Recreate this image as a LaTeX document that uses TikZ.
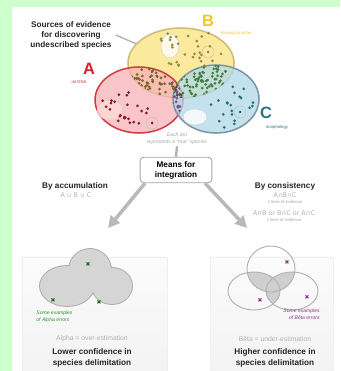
\documentclass[tikz,border=0pt]{standalone}
\usepackage{fontspec}
\setmainfont{Liberation Sans}
\newfontfamily\symfont{DejaVu Sans}
\usetikzlibrary{shapes.geometric, positioning, arrows.meta}
\usepackage{xcolor}

\definecolor{bggreen}{RGB}{204,255,204}
\definecolor{redline}{RGB}{214,58,66}
\definecolor{redfill}{RGB}{246,178,184}
\definecolor{yellowline}{RGB}{205,190,115}
\definecolor{yellowfill}{RGB}{250,226,125}
\definecolor{blueline}{RGB}{125,150,160}
\definecolor{bluefill}{RGB}{175,217,232}
\definecolor{dotA}{RGB}{140,25,40}
\definecolor{dotB}{RGB}{150,140,70}
\definecolor{dotC}{RGB}{40,110,125}
\definecolor{dotAB}{RGB}{125,100,50}
\definecolor{dotBC}{RGB}{70,125,70}
\definecolor{dotAC}{RGB}{120,80,140}
\definecolor{dotABC}{RGB}{80,70,70}
\definecolor{letterA}{RGB}{220,30,40}
\definecolor{letterB}{RGB}{240,200,40}
\definecolor{letterC}{RGB}{40,120,130}
\definecolor{alphagreen}{RGB}{40,150,40}
\definecolor{betapurple}{RGB}{140,50,140}

\newcommand{\speciesdots}[6]{%
  \foreach \k in {1,...,#5}{
    \pgfmathsetmacro{\ang}{360*rnd}
    \pgfmathsetmacro{\rad}{sqrt(rnd)}
    \fill[#6] ({#1+#3*\rad*cos(\ang)},{#2+#4*\rad*sin(\ang)}) circle[radius=1.5];
  }}

\begin{document}
\begin{tikzpicture}[
    x=0.03cm, y=-0.03cm,
    setnode/.style={ellipse, inner sep=0pt, line width=1.3pt, fill opacity=0.75},
    letter/.style={font=\bfseries\fontsize{14}{14}\selectfont, inner sep=0pt},
    tinytext/.style={font=\fontsize{3.6}{4}\selectfont, inner sep=0pt},
    title/.style={font=\bfseries\fontsize{7}{8.5}\selectfont, align=center, text=black!85},
    heading/.style={font=\bfseries\fontsize{7}{10}\selectfont, align=center, text=black!85},
    formula/.style={font=\symfont\fontsize{5.5}{6}\selectfont, text=gray!60, inner sep=0pt},
    estimate/.style={font=\fontsize{5.8}{7}\selectfont, text=gray!60},
    note/.style={font=\itshape\fontsize{4.3}{6}\selectfont, align=center, text=gray!70, inner sep=1pt},
    box/.style={rectangle, draw=gray!70, fill=white, rounded corners=3pt, line width=0.8pt, minimum width=2.15cm, minimum height=0.76cm, align=center, font=\bfseries\fontsize{7}{8.5}\selectfont},
    panel/.style={rectangle, draw=gray!12, top color=gray!3, bottom color=gray!10, inner sep=0pt},
    errmark/.style={font=\symfont\fontsize{5}{5}\selectfont, inner sep=0pt},
    bigarrow/.style={-{Triangle[length=10pt, width=10pt]}, line width=3pt, gray!55},
    pointer/.style={gray!60, line width=1.2pt}
]
    \useasboundingbox (0,0) rectangle (340,371);
    \fill[bggreen] (0,0) rectangle (340,371);
    \fill[white] (12,7) rectangle (340,371);

    \node[setnode, draw=yellowline, fill=yellowfill, minimum width=3.18cm, minimum height=2.1cm] (setB) at (181,63) {};
    \node[setnode, draw=redline, fill=redfill, minimum width=2.64cm, minimum height=1.98cm] (setA) at (139,100) {};
    \node[setnode, draw=blueline, fill=bluefill, minimum width=2.58cm, minimum height=2.04cm] (setC) at (216,99) {};

    \draw[gray!35, fill=white, fill opacity=0.8] (170,46) ellipse[x radius=9, y radius=12];
    \draw[gray!35, fill=white!85!red, fill opacity=0.8] (110,110) ellipse[x radius=13, y radius=10];
    \draw[gray!35, fill=white, fill opacity=0.8] (195,117) ellipse[x radius=12, y radius=8];
    \draw[gray!50] (208,52) circle[radius=6] (152,123) circle[radius=6] (240,112) circle[radius=6];
    \fill[dotB] (208,52) circle[radius=1.5];
    \fill[dotA] (152,123) circle[radius=1.5];
    \fill[dotC] (240,112) circle[radius=1.5];

    \pgfmathsetseed{11}
    \speciesdots{190}{50}{42}{20}{30}{dotB}
    \speciesdots{124}{108}{26}{20}{24}{dotA}
    \speciesdots{229}{106}{25}{22}{20}{dotC}
    \begin{scope}
        \clip (139,100) ellipse[x radius=44, y radius=33];
        \clip (181,63) ellipse[x radius=53, y radius=35];
        \speciesdots{158}{84}{30}{18}{85}{dotAB}
    \end{scope}
    \begin{scope}
        \clip (216,99) ellipse[x radius=43, y radius=34];
        \clip (181,63) ellipse[x radius=53, y radius=35];
        \speciesdots{200}{80}{30}{17}{85}{dotBC}
    \end{scope}
    \begin{scope}
        \clip (216,99) ellipse[x radius=43, y radius=34];
        \clip (139,100) ellipse[x radius=44, y radius=33];
        \speciesdots{179}{108}{9}{22}{34}{dotAC}
        \clip (181,63) ellipse[x radius=53, y radius=35];
        \speciesdots{178}{90}{10}{10}{20}{dotABC}
    \end{scope}

    \node[title] (sources) at (71,35) {Sources of evidence\\for discovering\\undescribed species};
    \draw[pointer] (sources.east) -- (setB);

    \node[letter, text=letterA] (labA) at (89,69) {A};
    \node[tinytext, text=letterA] (dnaA) at (79,82) {mt DNA};
    \node[letter, text=letterB] (labB) at (208,21) {B};
    \node[tinytext, text=letterB] (nicheB) at (236,33) {Ecological niche};
    \node[letter, text=letterC] (labC) at (266,113) {C};
    \node[tinytext, text=letterC] (morphC) at (277,127) {morphology};

    \node[note] (dotnote) at (177,139) {Each dot\\represents a “true” species};
    \node[box] (means) at (176,170) {Means for\\integration};
    \draw[pointer, line width=2pt] (dotnote.south) -- (means.north);

    \coordinate (accumtip) at (108,228);
    \coordinate (consisttip) at (247,228);
    \draw[bigarrow] ([xshift=-0.93cm]means.south) -- (accumtip);
    \draw[bigarrow] ([xshift=0.87cm]means.south) -- (consisttip);

    \node[heading] (accum) at (75,186) {By accumulation};
    \node[formula] (union) at (76,195) {A ∪ B ∪ C};
    \node[heading] (consist) at (285,186) {By consistency};
    \node[formula] (triple) at (285,195) {A∩B∩C};
    \node[tinytext, text=gray!70] (three) at (285,202) {3 lines of evidence};
    \node[formula] (pairs) at (284,213) {A∩B or B∩C or A∩C};
    \node[tinytext, text=gray!70] (two) at (284,220) {2 lines of evidence};

    \node[panel, minimum width=4.35cm, minimum height=3.6cm] (leftpanel) at (94.5,317) {};
    \node[panel, minimum width=3.69cm, minimum height=3.6cm] (rightpanel) at (271.5,317) {};

    \draw[line width=1.6pt, gray!65] (67,286) ellipse[x radius=27, y radius=20] (90,270) circle[radius=21] (112,286) ellipse[x radius=20, y radius=18];
    \fill[gray!33] (67,286) ellipse[x radius=27, y radius=20] (90,270) circle[radius=21] (112,286) ellipse[x radius=20, y radius=18];
    \node[errmark, text=alphagreen!70!black] (alpha1) at (88,264) {✖};
    \node[errmark, text=alphagreen!70!black] (alpha2) at (53,300) {✖};
    \node[errmark, text=alphagreen!70!black] (alpha3) at (99,302) {✖};
    \node[note, text=alphagreen, align=left, anchor=west] (alphaex) at (35,317) {Some examples\\of Alpha errors};

    \begin{scope}
        \clip (271,269) ellipse[x radius=24, y radius=23];
        \fill[gray!38] (254,291) ellipse[x radius=26, y radius=19] (292,291) ellipse[x radius=26, y radius=19];
    \end{scope}
    \begin{scope}
        \clip (254,291) ellipse[x radius=26, y radius=19];
        \fill[gray!38] (292,291) ellipse[x radius=26, y radius=19];
    \end{scope}
    \draw[gray!60, line width=0.8pt] (271,269) ellipse[x radius=24, y radius=23] (254,291) ellipse[x radius=26, y radius=19] (292,291) ellipse[x radius=26, y radius=19];
    \node[errmark, text=betapurple] (beta1) at (287,262) {✖};
    \node[errmark, text=betapurple] (beta2) at (260,300) {✖};
    \node[errmark, text=betapurple] (beta3) at (307,297) {✖};
    \node[note, text=betapurple, align=right, anchor=east] (betaex) at (321,314) {Some examples\\of Bêta errors};

    \node[estimate] (alphaest) at (92,339) {Alpha = over-estimation};
    \node[heading] (lower) at (92,358) {Lower confidence in\\species delimitation};
    \node[estimate] (betaest) at (275,339) {Bêta = under-estimation};
    \node[heading] (higher) at (275,358) {Higher confidence in\\species delimitation};
\end{tikzpicture}
\end{document}
